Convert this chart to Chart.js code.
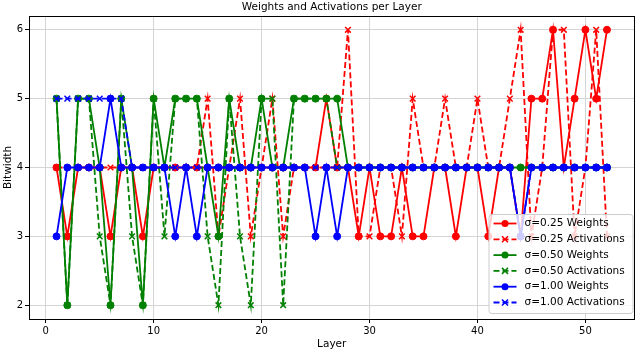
<!DOCTYPE html>
<html>
<head>
<meta charset="utf-8">
<script src="https://cdn.jsdelivr.net/npm/chart.js@4.4.0/dist/chart.umd.min.js"></script>
<style>
  body { margin: 0; background: #fff; }
  canvas { display: block; }
</style>
</head>
<body>
<canvas id="chart" width="640" height="353"></canvas>
<script>
const layers = [1, 2, 3, 4, 5, 6, 7, 8, 9, 10, 11, 12, 13, 14, 15, 16, 17, 18, 19, 20,
  21, 22, 23, 24, 25, 26, 27, 28, 29, 30, 31, 32, 33, 34, 35, 36, 37, 38, 39, 40,
  41, 42, 43, 44, 45, 46, 47, 48, 49, 50, 51, 52];

// bitwidth per layer
const w025 = [4, 3, 4, 4, 4, 3, 4, 4, 3, 4, 4, 4, 4, 4, 4, 4, 4, 4, 4, 4,
  4, 4, 4, 4, 4, 5, 4, 4, 3, 4, 3, 3, 4, 3, 3, 4, 4, 3, 4, 4,
  3, 4, 4, 3, 5, 5, 6, 4, 5, 6, 5, 6];
const a025 = [4, 4, 4, 4, 4, 4, 4, 4, 4, 4, 4, 4, 4, 4, 5, 3, 4, 5, 3, 4,
  5, 3, 4, 4, 4, 4, 4, 6, 3, 3, 4, 4, 3, 5, 4, 4, 5, 4, 4, 5,
  4, 4, 5, 6, 3, 4, 6, 6, 3, 4, 6, 3];
const w050 = [5, 2, 5, 5, 4, 2, 5, 4, 2, 5, 4, 5, 5, 5, 4, 3, 5, 4, 4, 5,
  4, 4, 5, 5, 5, 5, 5, 4, 4, 4, 4, 4, 4, 4, 4, 4, 4, 4, 4, 4,
  4, 4, 4, 4, 4, 4, 4, 4, 4, 4, 4, 4];
const a050 = [5, 2, 5, 5, 3, 2, 5, 3, 2, 5, 3, 5, 5, 5, 3, 2, 5, 3, 2, 5,
  5, 2, 5, 5, 5, 5, 4, 4, 4, 4, 4, 4, 4, 4, 4, 4, 4, 4, 4, 4,
  4, 4, 4, 4, 4, 4, 4, 4, 4, 4, 4, 4];
const w100 = [3, 4, 4, 4, 4, 5, 4, 4, 4, 4, 4, 3, 4, 3, 4, 4, 4, 4, 4, 4,
  4, 4, 4, 4, 3, 4, 3, 4, 4, 4, 4, 4, 4, 4, 4, 4, 4, 4, 4, 4,
  4, 4, 4, 3, 4, 4, 4, 4, 4, 4, 4, 4];
const a100 = [5, 5, 5, 5, 5, 5, 5, 4, 4, 4, 4, 4, 4, 4, 4, 4, 4, 4, 4, 4,
  4, 4, 4, 4, 4, 4, 4, 4, 4, 4, 4, 4, 4, 4, 4, 4, 4, 4, 4, 4,
  4, 4, 4, 3, 4, 4, 4, 4, 4, 4, 4, 4];

const xTicks = [0, 10, 20, 30, 40, 50];
const yTicks = [2, 3, 4, 5, 6];

const FONT = 'DejaVu Sans';
Chart.defaults.font.family = FONT;
Chart.defaults.color = '#000';

function series(label, values, color, act, order) {
  return {
    label: label,
    data: layers.map((l, i) => ({ x: l, y: values[i] })),
    borderColor: color,
    backgroundColor: color,
    borderWidth: 1.8,
    borderDash: act ? [6, 3] : [],
    pointStyle: act ? 'crossRot' : 'circle',
    pointRadius: act ? 4 : 3.5,
    pointHoverRadius: act ? 4 : 3.5,
    pointBorderWidth: act ? 1.5 : 1,
    pointBackgroundColor: color,
    pointBorderColor: color,
    tension: 0,
    order: order
  };
}

// matplotlib-style legend in the lower right of the axes
const legendBox = {
  id: 'legendBox',
  afterDatasetsDraw(chart) {
    const ctx = chart.ctx;
    const a = chart.chartArea;
    const w = 144, h = 99;
    const x0 = a.right - 2 - w, y0 = a.bottom - 6 - h;
    ctx.save();
    ctx.beginPath();
    ctx.roundRect(x0 + 0.5, y0 + 0.5, w, h, 3);
    ctx.fillStyle = 'rgba(255,255,255,0.8)';
    ctx.fill();
    ctx.strokeStyle = '#cccccc';
    ctx.lineWidth = 1;
    ctx.stroke();
    ctx.font = '10.5px "' + FONT + '"';
    ctx.textBaseline = 'middle';
    ctx.textAlign = 'left';
    chart.data.datasets.forEach((ds, i) => {
      const y = y0 + 9.5 + i * 15.8;
      ctx.strokeStyle = ds.borderColor;
      ctx.fillStyle = ds.borderColor;
      ctx.lineWidth = 1.8;
      ctx.setLineDash(ds.borderDash);
      ctx.beginPath();
      ctx.moveTo(x0 + 5, y);
      ctx.lineTo(x0 + 28, y);
      ctx.stroke();
      ctx.setLineDash([]);
      const mx = x0 + 16.5;
      if (ds.pointStyle === 'circle') {
        ctx.beginPath();
        ctx.arc(mx, y, 3.5, 0, Math.PI * 2);
        ctx.fill();
      } else {
        ctx.lineWidth = 1.5;
        ctx.beginPath();
        ctx.moveTo(mx - 3, y - 3); ctx.lineTo(mx + 3, y + 3);
        ctx.moveTo(mx - 3, y + 3); ctx.lineTo(mx + 3, y - 3);
        ctx.stroke();
      }
      ctx.fillStyle = '#000';
      ctx.fillText(ds.label, x0 + 36, y);
    });
    ctx.restore();
  },
  afterDraw(chart) {
    const ctx = chart.ctx;
    const a = chart.chartArea;
    ctx.save();
    ctx.strokeStyle = '#000';
    ctx.lineWidth = 1;
    ctx.strokeRect(Math.round(a.left) + 0.5, Math.round(a.top) + 0.5,
      Math.round(a.right - a.left) - 1, Math.round(a.bottom - a.top));
    ctx.fillStyle = '#000';
    ctx.font = '10.5px "' + FONT + '"';
    ctx.textAlign = 'center';
    ctx.textBaseline = 'alphabetic';
    ctx.fillText('Weights and Activations per Layer', (a.left + a.right) / 2, 10);
    ctx.restore();
  }
};

new Chart(document.getElementById('chart'), {
  type: 'line',
  data: {
    datasets: [
      series('σ=0.25 Weights', w025, '#ff0000', false, 5),
      series('σ=0.25 Activations', a025, '#ff0000', true, 4),
      series('σ=0.50 Weights', w050, '#008000', false, 3),
      series('σ=0.50 Activations', a050, '#008000', true, 2),
      series('σ=1.00 Weights', w100, '#0000ff', false, 1),
      series('σ=1.00 Activations', a100, '#0000ff', true, 0)
    ]
  },
  options: {
    responsive: false,
    animation: false,
    layout: { padding: { top: 16, right: 5, left: 0, bottom: 0 } },
    plugins: {
      legend: { display: false },
      title: { display: false },
      tooltip: { enabled: false }
    },
    scales: {
      x: {
        type: 'linear',
        min: -1.55,
        max: 54.55,
        afterBuildTicks: s => { s.ticks = xTicks.map(v => ({ value: v })); },
        afterFit: s => { s.height = 34; },
        ticks: { font: { size: 10 }, color: '#000', padding: 2, maxRotation: 0 },
        grid: { color: '#d4d4d4', tickColor: '#000', tickLength: 4, lineWidth: 1 },
        border: { display: true, color: '#000' },
        title: { display: true, text: 'Layer', font: { size: 10.5 }, color: '#000', padding: { top: 0, bottom: 2 } }
      },
      y: {
        min: 1.8,
        max: 6.2,
        afterBuildTicks: s => { s.ticks = yTicks.map(v => ({ value: v })); },
        afterFit: s => { s.width = 29; },
        ticks: { font: { size: 10 }, color: '#000', padding: 2 },
        grid: { color: '#d4d4d4', tickColor: '#000', tickLength: 4, lineWidth: 1 },
        border: { display: true, color: '#000' },
        title: { display: true, text: 'Bitwidth', font: { size: 10.5 }, color: '#000', padding: { top: 2, bottom: 0 } }
      }
    }
  },
  plugins: [legendBox]
});
</script>
</body>
</html>
